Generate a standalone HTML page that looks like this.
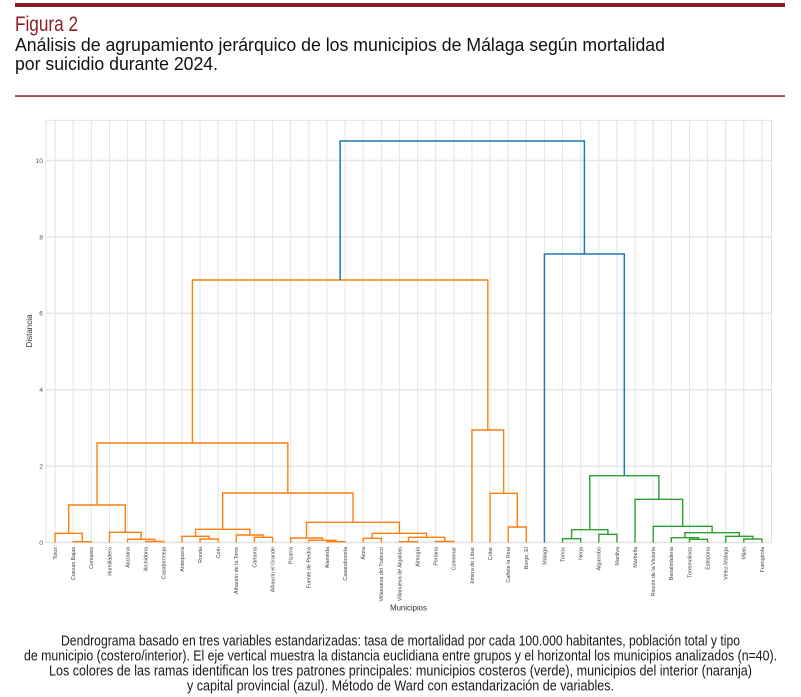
<!DOCTYPE html>
<html lang="es">
<head>
<meta charset="utf-8">
<style>
html,body{margin:0;padding:0;background:#fff;}
body{width:801px;height:697px;overflow:hidden;}
svg{display:block;}
.hdr{font-family:"Liberation Sans Narrow","Liberation Sans",sans-serif;}
.ax{font-family:"Liberation Sans",Arial,sans-serif;}
</style>
</head>
<body>
<svg width="801" height="697" viewBox="0 0 801 697" xmlns="http://www.w3.org/2000/svg">
  <rect x="0" y="0" width="801" height="697" fill="#ffffff"/>
  <!-- header -->
  <rect x="15" y="3" width="770" height="4" fill="#8b1c24"/>
  <text class="hdr" x="15" y="31" font-size="21" fill="#8b1e2a" textLength="63" lengthAdjust="spacingAndGlyphs">Figura 2</text>
  <text class="hdr" x="15" y="51" font-size="18" fill="#111" textLength="650" lengthAdjust="spacingAndGlyphs">Análisis de agrupamiento jerárquico de los municipios de Málaga según mortalidad</text>
  <text class="hdr" x="15" y="70" font-size="18" fill="#111" textLength="203" lengthAdjust="spacingAndGlyphs">por suicidio durante 2024.</text>
  <rect x="15" y="95.3" width="770" height="1.5" fill="#8b1c24"/>

  <!-- grid -->
  <g stroke="#e4e4e4" stroke-width="1" fill="none">
    <path d="M55.06 120.3V542.5M73.19 120.3V542.5M91.31 120.3V542.5M109.44 120.3V542.5M127.56 120.3V542.5M145.69 120.3V542.5M163.81 120.3V542.5M181.94 120.3V542.5M200.06 120.3V542.5M218.19 120.3V542.5M236.31 120.3V542.5M254.44 120.3V542.5M272.56 120.3V542.5M290.69 120.3V542.5M308.81 120.3V542.5M326.94 120.3V542.5M345.06 120.3V542.5M363.19 120.3V542.5M381.31 120.3V542.5M399.44 120.3V542.5M417.56 120.3V542.5M435.69 120.3V542.5M453.81 120.3V542.5M471.94 120.3V542.5M490.06 120.3V542.5M508.19 120.3V542.5M526.31 120.3V542.5M544.44 120.3V542.5M562.56 120.3V542.5M580.69 120.3V542.5M598.81 120.3V542.5M616.94 120.3V542.5M635.06 120.3V542.5M653.19 120.3V542.5M671.31 120.3V542.5M689.44 120.3V542.5M707.56 120.3V542.5M725.69 120.3V542.5M743.81 120.3V542.5M761.94 120.3V542.5"/>
  </g>
  <g stroke="#e6e6e6" stroke-width="1.5" fill="none">
    <path d="M46 160.5H771.5M46 236.9H771.5M46 313.3H771.5M46 389.7H771.5M46 466.1H771.5M46 542.5H771.5"/>
  </g>
  <rect x="46" y="120.3" width="725.5" height="422.2" fill="none" stroke="#e2e2e2" stroke-width="1"/>

  <!-- orange cluster -->
  <g stroke="#ff7f0e" stroke-width="1.4" fill="none" stroke-linejoin="miter">
    <path d="M73.19 542.5V541.7H91.31V542.5"/>
    <path d="M55.06 542.5V533.3H82.25V541.7"/>
    <path d="M145.69 542.5V541.5H163.81V542.5"/>
    <path d="M127.56 542.5V539.3H154.75V541.5"/>
    <path d="M109.44 542.5V532.3H141.16V539.3"/>
    <path d="M68.66 533.3V505H125.3V532.3"/>
    <path d="M200.06 542.5V539H218.19V542.5"/>
    <path d="M181.94 542.5V536.3H209.13V539"/>
    <path d="M254.44 542.5V537.3H272.56V542.5"/>
    <path d="M236.31 542.5V535H263.5V537.3"/>
    <path d="M195.53 536.3V529.3H249.9V535"/>
    <path d="M326.94 542.5V541.7H345.06V542.5"/>
    <path d="M308.81 542.5V540.3H336V541.7"/>
    <path d="M290.69 542.5V538H322.4V540.3"/>
    <path d="M363.19 542.5V538.3H381.31V542.5"/>
    <path d="M399.44 542.5V541.7H417.56V542.5"/>
    <path d="M435.69 542.5V541.5H453.81V542.5"/>
    <path d="M408.5 541.7V537.3H444.75V541.5"/>
    <path d="M372.25 538.3V533.3H426.6V537.3"/>
    <path d="M306.55 538V522.3H399.4V533.3"/>
    <path d="M222.7 529.3V493H353V522.3"/>
    <path d="M96.98 505V443H287.85V493"/>
    <path d="M508.19 542.5V527H526.31V542.5"/>
    <path d="M490.06 542.5V493.3H517.25V527"/>
    <path d="M471.94 542.5V430H503.65V493.3"/>
    <path d="M192.4 443V280H487.8V430"/>
  </g>
  <!-- green cluster -->
  <g stroke="#2ca02c" stroke-width="1.4" fill="none">
    <path d="M562.56 542.5V538.7H580.69V542.5"/>
    <path d="M598.81 542.5V534.3H616.94V542.5"/>
    <path d="M571.6 538.7V529.7H607.9V534.3"/>
    <path d="M689.44 542.5V539.3H707.56V542.5"/>
    <path d="M671.31 542.5V537.7H698.5V539.3"/>
    <path d="M743.81 542.5V539H761.94V542.5"/>
    <path d="M725.69 542.5V536.3H752.9V539"/>
    <path d="M684.9 537.7V532.7H739.3V536.3"/>
    <path d="M653.19 542.5V526.3H712.1V532.7"/>
    <path d="M635.06 542.5V499.3H682.65V526.3"/>
    <path d="M589.75 529.7V475.7H658.85V499.3"/>
  </g>
  <!-- blue -->
  <g stroke="#1f77b4" stroke-width="1.5" fill="none">
    <path d="M544.44 542.5V254H624.3V475.7"/>
    <path d="M340.1 280V141H584.4V254"/>
  </g>

  <!-- y ticks -->
  <g class="ax" font-size="6.8" fill="#555" text-anchor="end">
    <text x="43" y="544.9">0</text>
    <text x="43" y="468.5">2</text>
    <text x="43" y="392.1">4</text>
    <text x="43" y="315.7">6</text>
    <text x="43" y="239.3">8</text>
    <text x="43" y="162.9">10</text>
  </g>
  <text class="ax" font-size="8" fill="#333" text-anchor="middle" transform="translate(32,331) rotate(-90)">Distancia</text>
  <text class="ax" font-size="7.8" fill="#333" text-anchor="middle" x="408.5" y="610.5">Municipios</text>

  <!-- x labels -->
  <g class="ax" font-size="5.4" fill="#444" text-anchor="end">
    <text transform="translate(57,547) rotate(-90)">Tolox</text>
    <text transform="translate(75.1,547) rotate(-90)">Cuevas Bajas</text>
    <text transform="translate(93.2,547) rotate(-90)">Comares</text>
    <text transform="translate(111.4,547) rotate(-90)">Humilladero</text>
    <text transform="translate(129.5,547) rotate(-90)">Alozaina</text>
    <text transform="translate(147.6,547) rotate(-90)">Archidona</text>
    <text transform="translate(165.7,547) rotate(-90)">Casabermeja</text>
    <text transform="translate(183.9,547) rotate(-90)">Antequera</text>
    <text transform="translate(202,547) rotate(-90)">Ronda</text>
    <text transform="translate(220.1,547) rotate(-90)">Coín</text>
    <text transform="translate(238.2,547) rotate(-90)">Alhaurín de la Torre</text>
    <text transform="translate(256.4,547) rotate(-90)">Cártama</text>
    <text transform="translate(274.5,547) rotate(-90)">Alhaurín el Grande</text>
    <text transform="translate(292.6,547) rotate(-90)">Pizarra</text>
    <text transform="translate(310.7,547) rotate(-90)">Fuente de Piedra</text>
    <text transform="translate(328.9,547) rotate(-90)">Alameda</text>
    <text transform="translate(347,547) rotate(-90)">Casarabonela</text>
    <text transform="translate(365.1,547) rotate(-90)">Álora</text>
    <text transform="translate(383.2,547) rotate(-90)">Villanueva del Trabuco</text>
    <text transform="translate(401.4,547) rotate(-90)">Villanueva de Algaidas</text>
    <text transform="translate(419.5,547) rotate(-90)">Almogía</text>
    <text transform="translate(437.6,547) rotate(-90)">Periana</text>
    <text transform="translate(455.7,547) rotate(-90)">Colmenar</text>
    <text transform="translate(473.9,547) rotate(-90)">Jimera de Líbar</text>
    <text transform="translate(492,547) rotate(-90)">Cútar</text>
    <text transform="translate(510.1,547) rotate(-90)">Cañete la Real</text>
    <text transform="translate(528.2,547) rotate(-90)">Borge, El</text>
    <text transform="translate(546.4,547) rotate(-90)">Málaga</text>
    <text transform="translate(564.5,547) rotate(-90)">Torrox</text>
    <text transform="translate(582.6,547) rotate(-90)">Nerja</text>
    <text transform="translate(600.7,547) rotate(-90)">Algarrobo</text>
    <text transform="translate(618.9,547) rotate(-90)">Manilva</text>
    <text transform="translate(637,547) rotate(-90)">Marbella</text>
    <text transform="translate(655.1,547) rotate(-90)">Rincón de la Victoria</text>
    <text transform="translate(673.2,547) rotate(-90)">Benalmádena</text>
    <text transform="translate(691.4,547) rotate(-90)">Torremolinos</text>
    <text transform="translate(709.5,547) rotate(-90)">Estepona</text>
    <text transform="translate(727.6,547) rotate(-90)">Vélez-Málaga</text>
    <text transform="translate(745.7,547) rotate(-90)">Mijas</text>
    <text transform="translate(763.9,547) rotate(-90)">Fuengirola</text>
  </g>

  <!-- caption -->
  <g class="hdr" font-size="14.5" fill="#1a1a1a" text-anchor="middle">
    <text x="400.5" y="645.7" textLength="679" lengthAdjust="spacingAndGlyphs">Dendrograma basado en tres variables estandarizadas: tasa de mortalidad por cada 100.000 habitantes, población total y tipo</text>
    <text x="400.5" y="660.7" textLength="753" lengthAdjust="spacingAndGlyphs">de municipio (costero/interior). El eje vertical muestra la distancia euclidiana entre grupos y el horizontal los municipios analizados (n=40).</text>
    <text x="400.5" y="675.7" textLength="703" lengthAdjust="spacingAndGlyphs">Los colores de las ramas identifican los tres patrones principales: municipios costeros (verde), municipios del interior (naranja)</text>
    <text x="400.5" y="690.7" textLength="427" lengthAdjust="spacingAndGlyphs">y capital provincial (azul). Método de Ward con estandarización de variables.</text>
  </g>
</svg>
</body>
</html>
